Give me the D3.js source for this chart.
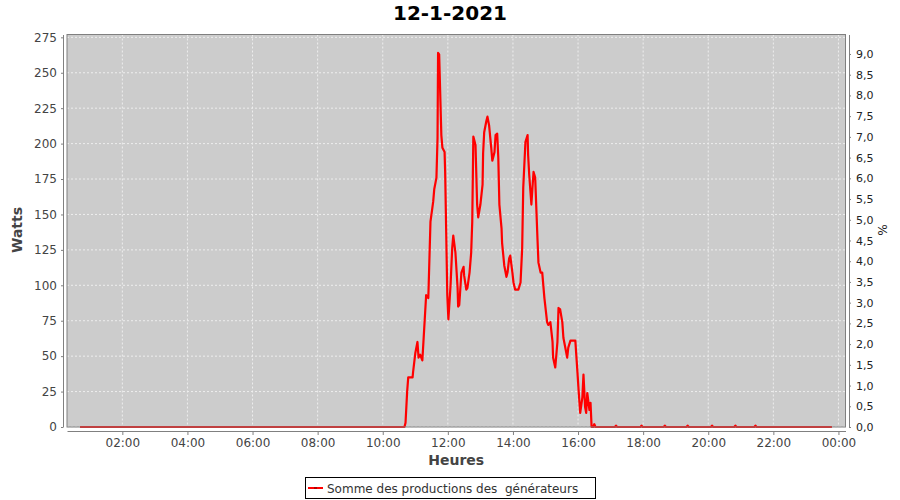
<!DOCTYPE html>
<html><head><meta charset="utf-8">
<script src="https://cdn.jsdelivr.net/npm/d3@7"></script>
<style>body{margin:0;background:#fff} svg{display:block}</style>
</head><body><svg id="c" width="900" height="500"></svg>
<script>
const chartTitle = "12-1-2021";
const seriesName = "Somme des productions des  générateurs";
const yLabel = "Watts";
const y2Label = "%";
const xLabel = "Heures";

const times = ["00:42","03:00","06:00","08:00","10:40","10:42","10:45","10:47","10:55","10:56","11:00","11:04","11:06","11:09","11:13","11:15","11:20","11:24","11:28","11:33","11:35","11:39","11:41","11:42","11:44","11:48","11:50","11:54","11:55","11:59","12:01","12:05","12:08","12:10","12:14","12:18","12:19","12:21","12:25","12:29","12:30","12:34","12:36","12:40","12:43","12:45","12:47","12:51","12:54","12:56","13:00","13:04","13:05","13:07","13:11","13:13","13:16","13:20","13:22","13:26","13:28","13:31","13:33","13:35","13:39","13:40","13:44","13:48","13:50","13:53","13:55","13:59","14:01","14:04","14:10","14:14","14:17","14:19","14:23","14:27","14:28","14:30","14:34","14:36","14:38","14:41","14:45","14:47","14:51","14:54","14:58","15:03","15:05","15:09","15:13","15:14","15:18","15:22","15:24","15:27","15:31","15:33","15:40","15:42","15:46","15:55","15:59","16:01","16:04","16:08","16:10","16:13","16:15","16:17","16:21","16:23","16:25","16:28","16:30","16:32","17:08","17:10","17:12","17:55","17:57","17:59","18:38","18:40","18:42","19:20","19:22","19:24","20:05","20:07","20:09","20:48","20:50","20:52","21:25","21:27","21:29","23:48"];
const watts = [0,0,0,0,0,3,25,35,35,39,52,60,49,51,47,60,93,91,145,159,168,176,204,264,263,206,197,194,181,93,76,100,126,135,123,98,85,86,109,113,107,97,98,109,123,145,205,199,157,148,157,171,193,208,216,219,213,197,188,194,206,207,190,157,140,130,114,106,109,119,121,109,102,97,97,102,126,169,201,206,192,178,157,169,180,176,135,116,109,109,91,74,72,74,60,49,42,60,84,83,74,63,49,56,61,61,38,26,10,21,37,14,10,24,12,17,0,0,2,0,0,1,0,0,1,0,0,1,0,0,1,0,0,1,0,0,1,0,0,1,0,0];

const leftTicks = [0,25,50,75,100,125,150,175,200,225,250,275];
const rightTicks = [0,0.5,1,1.5,2,2.5,3,3.5,4,4.5,5,5.5,6,6.5,7,7.5,8,8.5,9];
const xStart = "2021-01-12 00:18", xEnd = "2021-01-13 00:13";

const parse = d3.timeParse("%Y-%m-%d %H:%M");
const data = times.map((t, i) => ({t: parse("2021-01-12 " + t), v: watts[i]}));

const svg = d3.select("#c");
const L = 67, R = 845.5, T = 34.5, B = 427;
const font = "'DejaVu Sans', sans-serif";

const x = d3.scaleTime().domain([parse(xStart), parse(xEnd)]).range([L, R]);
const y = d3.scaleLinear().domain([0, 277]).range([B, T]);
const y2 = d3.scaleLinear().domain([0, 9.47]).range([B, T]);

// title
svg.append("text").attr("x", 450).attr("y", 20).attr("text-anchor", "middle")
  .attr("font-family", font).attr("font-weight", "bold").attr("font-size", 20).attr("fill", "#000").text(chartTitle);

// plot background
svg.append("rect").attr("x", L).attr("y", T).attr("width", R - L).attr("height", B - T).attr("fill", "#cccccc");

// gridlines
const xTicks = x.ticks(d3.timeHour.every(2));
svg.append("g").selectAll("line").data(xTicks).join("line")
  .attr("x1", d => x(d)).attr("x2", d => x(d)).attr("y1", T).attr("y2", B)
  .attr("stroke", "#eeeeee").attr("stroke-width", 1).attr("stroke-dasharray", "2,2");
svg.append("g").selectAll("line").data(leftTicks).join("line")
  .attr("x1", L).attr("x2", R).attr("y1", d => y(d)).attr("y2", d => y(d))
  .attr("stroke", "#eeeeee").attr("stroke-width", 1).attr("stroke-dasharray", "2,2");

// line
const line = d3.line().x(d => x(d.t)).y(d => y(d.v));
svg.append("path").datum(data).attr("d", line).attr("fill", "none")
  .attr("stroke", "#ff0000").attr("stroke-width", 2.2).attr("stroke-linejoin", "round");

// plot border
svg.append("rect").attr("x", L).attr("y", T).attr("width", R - L).attr("height", B - T)
  .attr("fill", "none").attr("stroke", "#808080").attr("stroke-width", 1);

function styleAxis(g, fs, col) {
  g.selectAll("path").attr("stroke", "#808080");
  g.selectAll("line").attr("stroke", "#808080");
  g.selectAll("text").attr("font-family", font).attr("font-size", fs).attr("fill", col);
}

// left axis
const gl = svg.append("g").attr("transform", "translate(63,0)")
  .call(d3.axisLeft(y).tickValues(leftTicks).tickSize(2).tickSizeOuter(0).tickPadding(4));
styleAxis(gl, 12, "#444");

// right axis
const fmt = d => d3.format(".1f")(d).replace(".", ",");
const gr = svg.append("g").attr("transform", "translate(849,0)")
  .call(d3.axisRight(y2).tickValues(rightTicks).tickFormat(fmt).tickSize(2).tickSizeOuter(0).tickPadding(5));
styleAxis(gr, 11, "#222");

// bottom axis
const gb = svg.append("g").attr("transform", "translate(0,431)")
  .call(d3.axisBottom(x).ticks(d3.timeHour.every(2)).tickFormat(d3.timeFormat("%H:%M")).tickSize(4).tickSizeOuter(0).tickPadding(3));
styleAxis(gb, 12, "#444");

// axis labels
svg.append("text").attr("transform", "translate(22,230) rotate(-90)").attr("text-anchor", "middle")
  .attr("font-family", font).attr("font-weight", "bold").attr("font-size", 14).attr("fill", "#444").text(yLabel);
svg.append("text").attr("transform", "translate(878,230) rotate(90)").attr("text-anchor", "middle")
  .attr("font-family", font).attr("font-size", 12).attr("fill", "#222").text(y2Label);
svg.append("text").attr("x", (L + R) / 2).attr("y", 465).attr("text-anchor", "middle")
  .attr("font-family", font).attr("font-weight", "bold").attr("font-size", 14).attr("fill", "#444").text(xLabel);

// legend
const lg = svg.append("g");
lg.append("rect").attr("x", 305.5).attr("y", 477.5).attr("width", 290).attr("height", 21)
  .attr("fill", "#fff").attr("stroke", "#000").attr("stroke-width", 1);
lg.append("line").attr("x1", 308).attr("x2", 323).attr("y1", 488).attr("y2", 488)
  .attr("stroke", "#ff0000").attr("stroke-width", 2);
lg.append("rect").attr("x", 314).attr("y", 487).attr("width", 3).attr("height", 2).attr("fill", "#b00000");
lg.append("text").attr("x", 327).attr("y", 492.5).attr("font-family", font).attr("font-size", 12)
  .attr("fill", "#333").attr("xml:space", "preserve").style("white-space", "pre").text(seriesName);
</script></body></html>
